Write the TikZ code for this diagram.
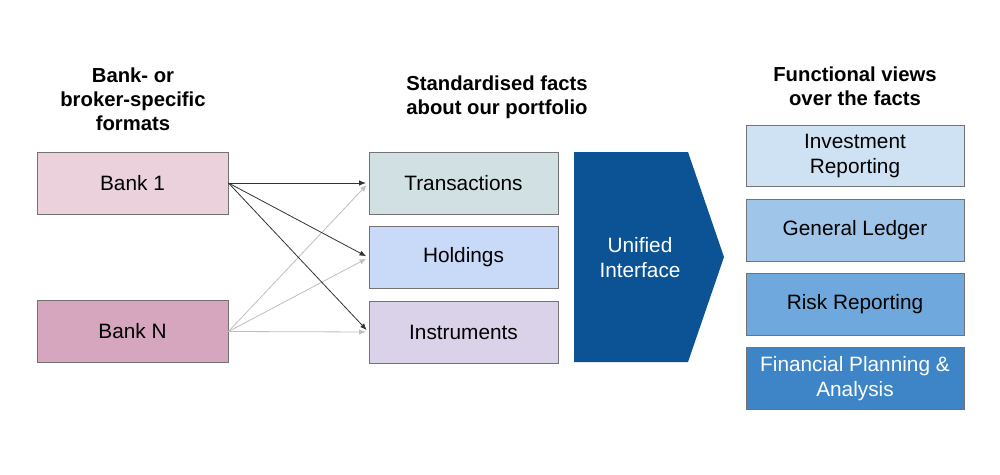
\documentclass[tikz,border=0pt]{standalone}
\usepackage{fontspec}
\setmainfont{Liberation Sans}
\usetikzlibrary{arrows.meta}
\definecolor{bankA}{HTML}{EAD1DC}
\definecolor{bankB}{HTML}{D5A6BD}
\definecolor{transc}{HTML}{D0E0E3}
\definecolor{holdc}{HTML}{C9DAF8}
\definecolor{instc}{HTML}{D9D2E9}
\definecolor{unic}{HTML}{0B5394}
\definecolor{fvA}{HTML}{CFE2F3}
\definecolor{fvB}{HTML}{9FC5E8}
\definecolor{fvC}{HTML}{6FA8DC}
\definecolor{fvD}{HTML}{3D85C6}
\definecolor{edgec}{HTML}{737373}
\tikzset{
  box/.style={draw=edgec, line width=0.7pt, rectangle, inner sep=0pt, align=center,
     font=\fontsize{15.6pt}{18.8pt}\selectfont},
  lbox/.style={box, minimum width=143.25pt, minimum height=46.5pt},
  mbox/.style={box, minimum width=141.75pt, minimum height=46.5pt},
  rbox/.style={box, minimum width=163.5pt, minimum height=46pt},
  head/.style={align=center, font=\fontsize{15.2pt}{18pt}\selectfont\bfseries},
  darr/.style={draw=black!80, line width=0.6pt, -{Latex[length=5pt,width=4pt]}, shorten >=2pt},
  larr/.style={draw=black!25, line width=0.6pt, -{Latex[length=5pt,width=4pt]}, shorten >=2pt},
}
\begin{document}
\begin{tikzpicture}[x=0.75pt,y=-0.75pt]
\useasboundingbox (0,0) rectangle (1000,475);
\fill[white] (0,0) rectangle (1000,475);

\node[head] (h1) at (133,99) {Bank- or\\broker-specific\\formats};
\node[head] (h2) at (497,97) {Standardised facts\\about our portfolio};
\node[head] (h3) at (855,86) {Functional views\\over the facts};

\node[lbox, fill=bankA] (b1) at (132.5,183) {Bank 1};
\node[lbox, fill=bankB] (bn) at (132.5,331.5) {Bank N};

\node[mbox, fill=transc] (tr) at (463.5,183) {Transactions};
\node[mbox, fill=holdc] (ho) at (463.5,257.5) {Holdings};
\node[mbox, fill=instc] (in) at (463.5,332) {Instruments};

\coordinate (u1) at (574,152);
\coordinate (u2) at (688,152);
\coordinate (u3) at (724,257);
\coordinate (u4) at (688,362);
\coordinate (u5) at (574,362);
\fill[unic] (u1) -- (u2) -- (u3) -- (u4) -- (u5) -- cycle;
\node[align=center, text=white, font=\fontsize{15.6pt}{18.8pt}\selectfont] (ui) at (640,258) {Unified\\Interface};

\node[rbox, fill=fvA] (f1) at (855,156) {Investment\\Reporting};
\node[rbox, fill=fvB] (f2) at (855,230.5) {General Ledger};
\node[rbox, fill=fvC] (f3) at (855,304.5) {Risk Reporting};
\node[rbox, fill=fvD, text=white] (f4) at (855,378.5) {Financial Planning \&\\Analysis};

\draw[larr] (bn.east) -- (tr.west);
\draw[larr] (bn.east) -- (ho.west);
\draw[larr] (bn.east) -- (in.west);
\draw[darr] (b1.east) -- (tr.west);
\draw[darr] (b1.east) -- (ho.west);
\draw[darr] (b1.east) -- (in.west);
\end{tikzpicture}
\end{document}
